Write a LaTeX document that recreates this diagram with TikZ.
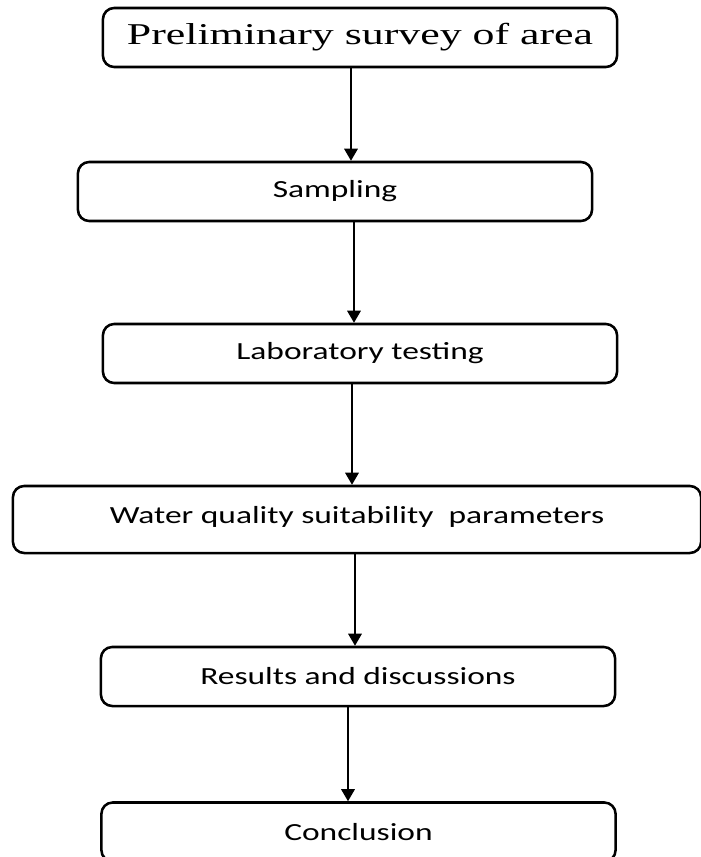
\documentclass[tikz,border=0pt]{standalone}
\usepackage{fontspec}
\usepackage{tikz}
\usetikzlibrary{positioning}
\usetikzlibrary{arrows.meta}
\newfontfamily\headfont[FakeStretch=1.45]{Liberation Serif}
\newfontfamily\stagefont[FakeStretch=1.36]{Carlito}
\tikzset{
stage/.style={
  rectangle,
  rounded corners=8pt,
  draw=black,
  line width=1.8pt,
  minimum width=12.85cm,
  minimum height=1.475cm,
  inner sep=0pt,
  fill=white,
  font=\stagefont\fontsize{17.5}{20}\selectfont
  }
}

\begin{document}
\begin{tikzpicture}[x=0.025cm,y=-0.025cm,>={Triangle[width=0.34cm,length=0.3cm]},line width=1pt]
\useasboundingbox (0,0) rectangle (700,857);
\node[stage,font=\headfont\fontsize{21.5}{24}\selectfont] (survey) at (360,37.5) {Preliminary survey of area};
\node[stage] (sampling) at (335,191.5) {Sampling};
\node[stage] (lab) at (360,353.5) {Laboratory testing};
\node[stage,minimum width=17.2cm,minimum height=1.675cm,text depth=0.25cm] (wq) at (357,519.5) {Water quality suitability~ parameters};
\node[stage] (results) at (358,676.5) {Results and discussions};
\node[stage] (concl) at (358.5,832) {Conclusion};
\draw[->] (survey.south -| 351,0) -- (sampling.north -| 351,0);
\draw[->] (sampling.south -| 354,0) -- (lab.north -| 354,0);
\draw[->] (lab.south -| 352,0) -- (wq.north -| 352,0);
\draw[->] (wq.south -| 355,0) -- (results.north -| 355,0);
\draw[->] (results.south -| 348,0) -- (concl.north -| 348,0);
\end{tikzpicture}
\end{document}
